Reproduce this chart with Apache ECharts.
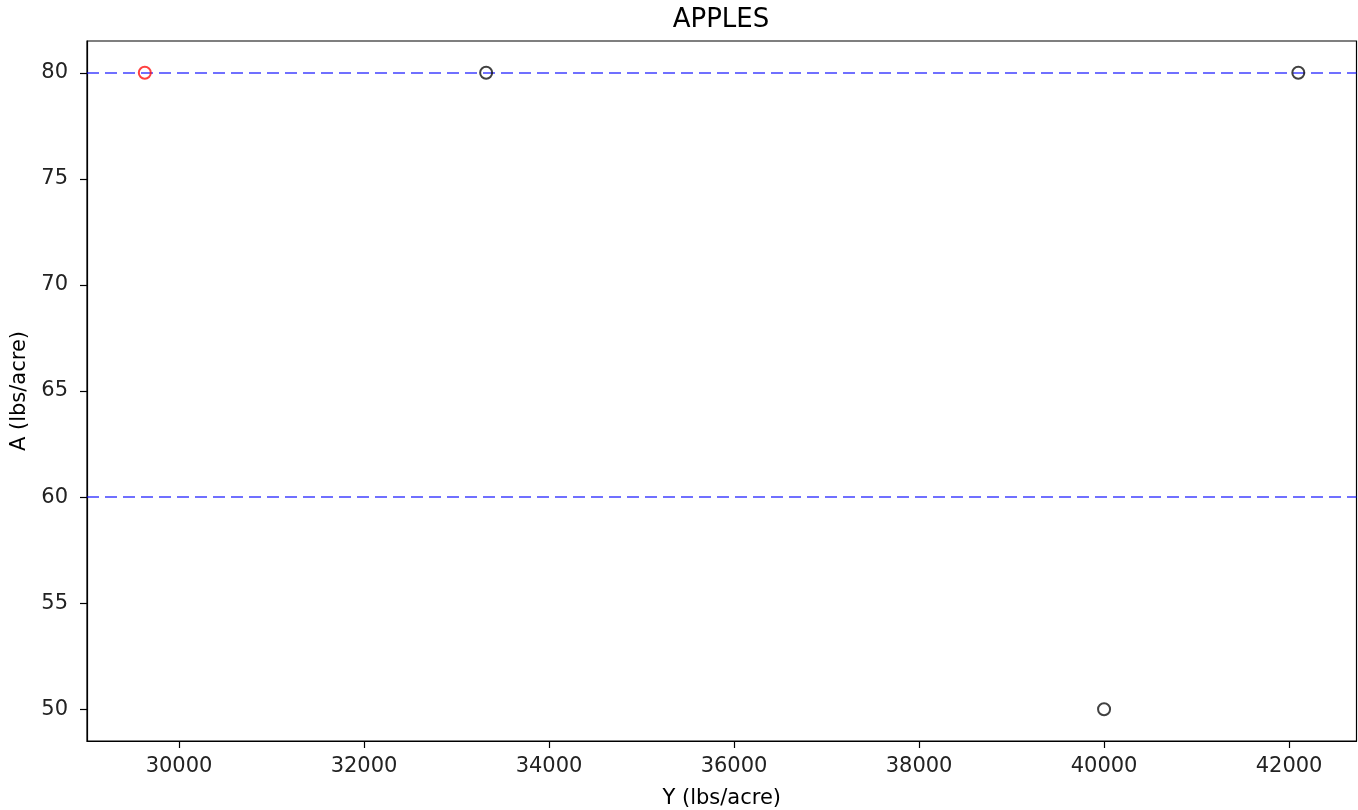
<!DOCTYPE html>
<html>
<head>
<meta charset="utf-8">
<script src="https://cdn.jsdelivr.net/npm/echarts@6/dist/echarts.min.js"></script>
<style>
html,body{margin:0;padding:0;background:#fff;}
#chart{width:1358px;height:810px;}
</style>
</head>
<body>
<div id="chart"></div>
<script>
// Data
const highlightYield = [29630];
const highlightA = [80];
const otherYield = [33320, 40000, 42100];
const otherA = [80, 50, 80];
const refLinesA = [80, 60];
const xTicks = [30000, 32000, 34000, 36000, 38000, 40000, 42000];
const yTicks = [50, 55, 60, 65, 70, 75, 80];

const FONT = 'DejaVu Sans';
const chart = echarts.init(document.getElementById('chart'), null, {renderer: 'canvas'});

const toPairs = (xs, ys) => xs.map((x, i) => [x, ys[i]]);

const option = {
  animation: false,
  backgroundColor: '#fff',
  graphic: [{
    type: 'text', x: 721, y: 20, z: 10,
    style: {text: 'APPLES', fontFamily: FONT, fontSize: 26, fill: '#000', align: 'center', verticalAlign: 'middle'}
  }],
  grid: {
    left: 87, right: 1.5, top: 41, bottom: 69,
    outerBoundsMode: 'none', containLabel: false,
    show: true, borderColor: '#000', borderWidth: 1.2, backgroundColor: '#fff'
  },
  xAxis: {
    type: 'value', min: 29005, max: 42729,
    name: 'Y (lbs/acre)', nameLocation: 'middle', nameGap: 47,
    nameTextStyle: {fontFamily: FONT, fontSize: 21, color: '#000'},
    axisLine: {show: true, lineStyle: {color: '#000', width: 1.2}},
    axisTick: {show: true, inside: false, length: 7, customValues: xTicks, lineStyle: {color: '#000', width: 1.2}},
    axisLabel: {customValues: xTicks, margin: 15, fontFamily: FONT, fontSize: 21, color: '#222', formatter: v => String(v)},
    splitLine: {show: false}
  },
  yAxis: {
    type: 'value', min: 48.5, max: 81.5,
    name: 'A (lbs/acre)', nameLocation: 'middle', nameGap: 56, nameRotate: 90,
    nameTextStyle: {fontFamily: FONT, fontSize: 21, color: '#000'},
    axisLine: {show: true, lineStyle: {color: '#000', width: 1.2}},
    axisTick: {show: true, inside: false, length: 7, customValues: yTicks, lineStyle: {color: '#000', width: 1.2}},
    axisLabel: {customValues: yTicks, margin: 19, fontFamily: FONT, fontSize: 21, color: '#222', formatter: v => String(v)},
    splitLine: {show: false}
  },
  series: [
    {
      type: 'scatter',
      data: toPairs(otherYield, otherA),
      symbol: 'circle', symbolSize: 12,
      itemStyle: {color: 'rgba(0,0,0,0)', borderColor: '#111', borderWidth: 2},
      z: 5,
      markLine: {
        silent: true, symbol: ['none', 'none'], label: {show: false},
        lineStyle: {color: 'rgba(0,0,255,0.75)', type: [12, 6], width: 1.7},
        data: refLinesA.map(v => ({yAxis: v}))
      }
    },
    {
      type: 'scatter',
      data: toPairs(highlightYield, highlightA),
      symbol: 'circle', symbolSize: 12,
      itemStyle: {color: 'rgba(0,0,0,0)', borderColor: '#ff1010', borderWidth: 2},
      z: 6
    }
  ]
};
chart.setOption(option);
</script>
</body>
</html>
